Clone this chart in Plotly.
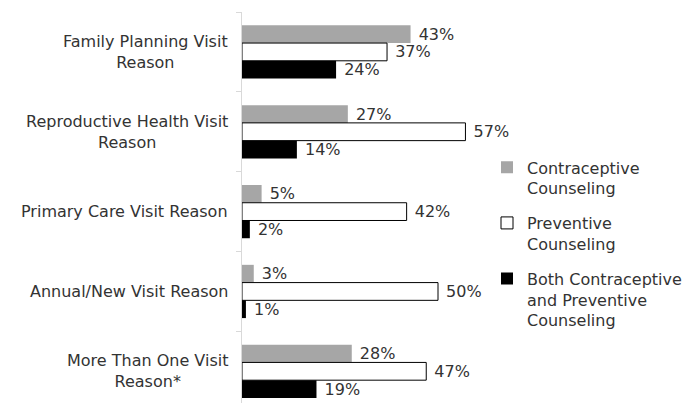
import plotly.graph_objects as go

categories = [
    "Family Planning Visit<br>Reason",
    "Reproductive Health Visit<br>Reason",
    "Primary Care Visit Reason",
    "Annual/New Visit Reason",
    "More Than One Visit<br>Reason*",
]
series_names = [
    "Contraceptive<br>Counseling",
    "Preventive<br>Counseling",
    "Both Contraceptive<br>and Preventive<br>Counseling",
]
contraceptive = [43, 27, 5, 3, 28]
preventive = [37, 57, 42, 50, 47]
both = [24, 14, 2, 1, 19]

FONT = "DejaVu Sans"
TXT = "#333333"

styles = [
    dict(color="#A6A6A6", line=dict(color="#A6A6A6", width=0)),
    dict(color="#FFFFFF", line=dict(color="#000000", width=1)),
    dict(color="#000000", line=dict(color="#000000", width=0)),
]

fig = go.Figure()
for i, (name, vals) in enumerate(zip(series_names, [contraceptive, preventive, both])):
    fig.add_trace(go.Bar(
        y=list(range(len(categories))),
        x=vals,
        orientation="h",
        name=name,
        marker=styles[i],
        text=["\u00a0" + f"{v}%" for v in vals],
        textposition="outside",
        constraintext="none",
        cliponaxis=False,
        textfont=dict(family=FONT, size=16, color=TXT),
        legendgroup=f"g{i}",
        hoverinfo="skip",
    ))

for i, c in enumerate(categories):
    fig.add_annotation(
        x=0, xref="paper", y=i, yref="y",
        text=c, showarrow=False, xanchor="right", yanchor="middle",
        align="center", xshift=-12,
        font=dict(family=FONT, size=16, color=TXT),
    )

fig.update_layout(
    width=683, height=403,
    margin=dict(l=242, r=0, t=12, b=0, pad=0, autoexpand=False),
    paper_bgcolor="white", plot_bgcolor="white",
    barmode="group", bargap=0.333, bargroupgap=0,
    showlegend=True,
    legend=dict(
        x=(487 - 242) / 441, xanchor="left",
        y=0.646, yanchor="top",
        traceorder="grouped", tracegroupgap=11, valign="top",
        font=dict(family=FONT, size=16, color=TXT),
        bgcolor="rgba(0,0,0,0)",
    ),
    xaxis=dict(range=[0, 441 / 3.92], visible=False, fixedrange=True),
    yaxis=dict(
        type="linear", range=[4.397, -0.5], showgrid=False, zeroline=False,
        showticklabels=False, showline=True, linecolor="#D9D9D9", linewidth=1,
        ticks="outside", ticklen=5, tickcolor="#D9D9D9",
        tickvals=[-0.5, 0.5, 1.5, 2.5, 3.5, 4.5], fixedrange=True,
    ),
)

fig.write_html(
    "out.html",
    config={"displayModeBar": False},
    post_script="document.body.style.margin='0';document.body.style.padding='0';",
)
